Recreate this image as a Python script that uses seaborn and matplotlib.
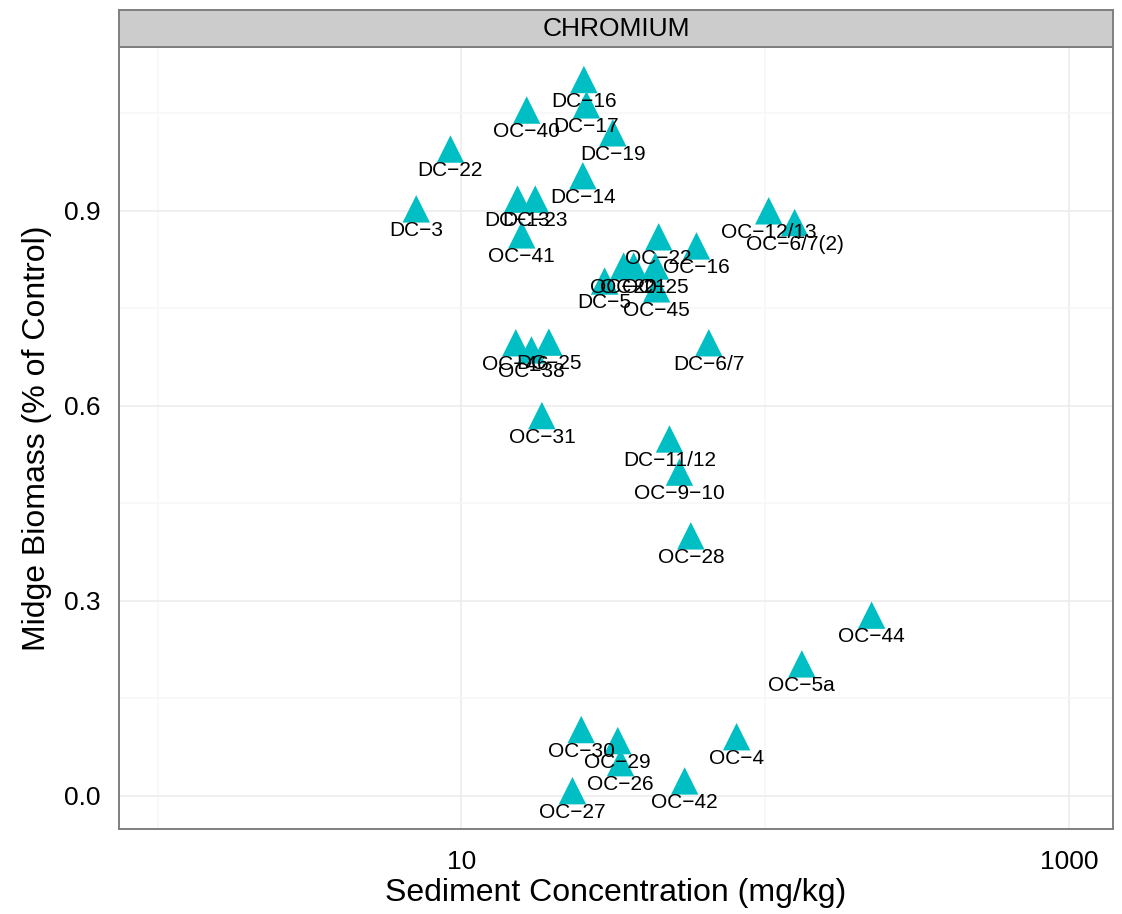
import matplotlib
matplotlib.use("Agg")
import matplotlib.pyplot as plt
import matplotlib.ticker as mticker
import pandas as pd
import seaborn as sns

# Site labels, sediment chromium (mg/kg) and midge biomass (fraction of control)
sites = ["DC-16", "DC-17", "OC-40", "DC-19", "DC-22", "DC-14", "DC-3", "DC-13",
         "DC-23", "OC-41", "OC-22", "OC-16", "DC-5", "OC-20", "OC-21", "OC-25",
         "OC-45", "DC-6/7", "OC-12/13", "OC-6/7(2)", "OC-46", "OC-38", "DC-25",
         "OC-31", "DC-11/12", "OC-9-10", "OC-28", "OC-44", "OC-5a", "OC-4",
         "OC-30", "OC-29", "OC-26", "OC-27", "OC-42"]
conc = [25.3, 25.8, 16.4, 31.5, 9.2, 25.1, 7.1, 15.3,
        17.5, 15.8, 44.6, 59.4, 29.6, 34.2, 36.9, 43.5,
        43.9, 65.2, 102.7, 125.0, 15.1, 17.0, 19.4,
        18.4, 48.4, 52.2, 56.9, 224.0, 132.0, 80.5,
        24.8, 32.7, 33.4, 23.2, 54.3]
biomass = [1.102, 1.063, 1.055, 1.020, 0.995, 0.954, 0.903, 0.918,
           0.918, 0.863, 0.860, 0.846, 0.792, 0.815, 0.815, 0.815,
           0.780, 0.697, 0.900, 0.882, 0.697, 0.686, 0.698,
           0.585, 0.549, 0.498, 0.400, 0.278, 0.203, 0.091,
           0.102, 0.085, 0.051, 0.008, 0.023]

x_major = [10, 1000]
x_minor = [1, 100]
y_major = [0.0, 0.3, 0.6, 0.9]
y_minor = [0.15, 0.45, 0.75, 1.05]

sns.set_style("white")
plt.rcParams["font.family"] = ["Liberation Sans", "DejaVu Sans"]
plt.rcParams["text.color"] = "black"
plt.rcParams["axes.labelcolor"] = "black"

W, H = 1122, 914
fig = plt.figure(figsize=(W / 100, H / 100), dpi=100)
left, right, top, bottom = 119, 1113, 47, 829
ax = fig.add_axes([left / W, 1 - bottom / H, (right - left) / W, (bottom - top) / H])

df = pd.DataFrame({"conc": conc, "biomass": biomass, "site": sites})

sns.scatterplot(data=df, x="conc", y="biomass", marker="^", s=390,
                color="#00BFC4", edgecolor="none", linewidth=0, ax=ax, zorder=3)

# labels sit just under each point
for _, r in df.iterrows():
    ax.annotate(r["site"].replace("-", "\u2212"), (r["conc"], r["biomass"]),
                xytext=(0, -15.5), textcoords="offset points",
                ha="center", va="center", fontsize=15, color="black", zorder=4)

ax.set_xscale("log")
ax.set_xlim(0.746, 1396)
ax.set_ylim(-0.051, 1.152)

ax.set_xticks(x_major)
ax.set_xticklabels([str(v) for v in x_major])
ax.set_xticks(x_minor, minor=True)
ax.xaxis.set_minor_formatter(mticker.NullFormatter())
ax.set_yticks(y_major)
ax.set_yticklabels([f"{v:.1f}" for v in y_major])
ax.set_yticks(y_minor, minor=True)
ax.yaxis.set_minor_formatter(mticker.NullFormatter())

ax.grid(True, which="major", color="#EBEBEB", linewidth=1.1, zorder=0)
ax.grid(True, which="minor", color="#F7F7F7", linewidth=1.1, zorder=0)
ax.set_axisbelow(True)

ax.tick_params(axis="both", which="major", length=6, width=1.4, color="#333333",
               labelsize=19, labelcolor="black", direction="out")
ax.tick_params(axis="x", which="major", pad=9)
ax.tick_params(axis="y", which="major", pad=7)
ax.tick_params(axis="both", which="minor", length=0)

for sp in ax.spines.values():
    sp.set_color("#7F7F7F")
    sp.set_linewidth(1.4)

ax.set_xlabel("Sediment Concentration (mg/kg)", fontsize=23, labelpad=3)
ax.set_ylabel("Midge Biomass (% of Control)", fontsize=23, labelpad=9)

# facet strip
strip = fig.add_axes([left / W, 1 - top / H, (right - left) / W, (top - 10) / H])
strip.set_facecolor("#CCCCCC")
strip.set_xticks([])
strip.set_yticks([])
for sp in strip.spines.values():
    sp.set_color("#7F7F7F")
    sp.set_linewidth(1.4)
strip.text(0.5, 0.5, "CHROMIUM", ha="center", va="center", fontsize=19,
           color="black", transform=strip.transAxes)

fig.savefig("out.png", dpi=100)
